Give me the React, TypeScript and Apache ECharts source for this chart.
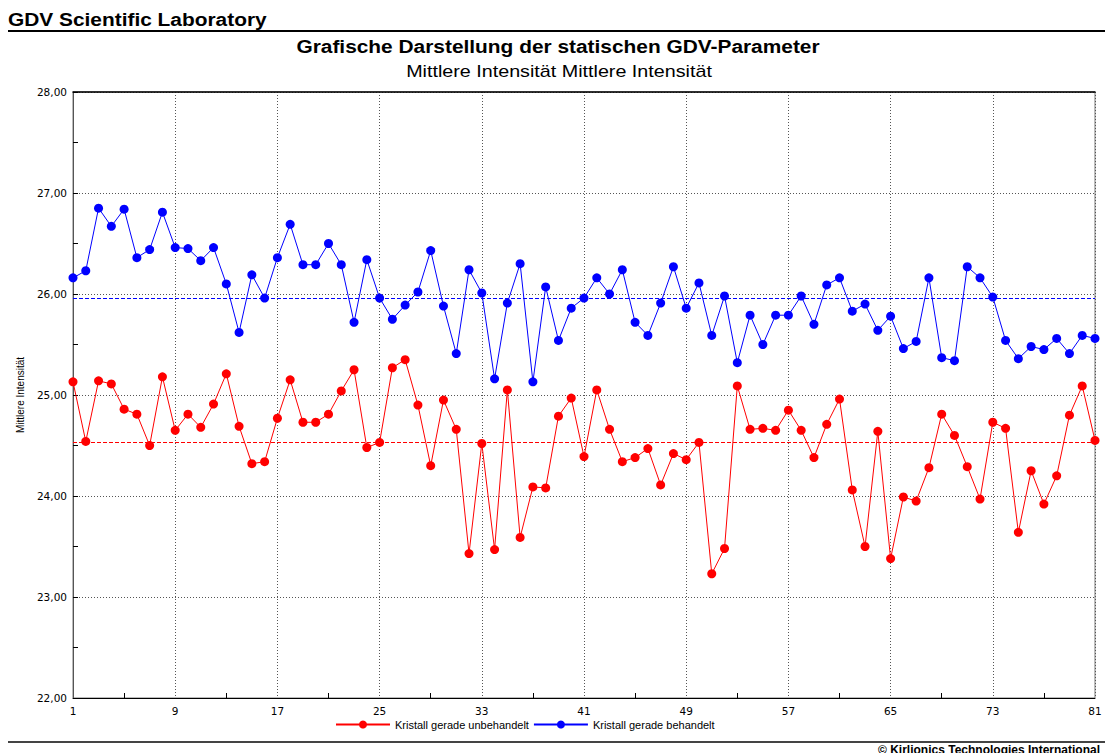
import React, { useEffect, useRef } from "react";
import * as echarts from "echarts";

const categories: string[] = Array.from({ length: 81 }, (_, i) => String(i + 1));

const untreated: number[] = [
  25.13, 24.54, 25.14, 25.11, 24.86, 24.81, 24.5, 25.18, 24.65, 24.81,
  24.68, 24.91, 25.21, 24.69, 24.32, 24.34, 24.77, 25.15, 24.73, 24.73,
  24.81, 25.04, 25.25, 24.48, 24.53, 25.27, 25.35, 24.9, 24.3, 24.95,
  24.66, 23.43, 24.52, 23.47, 25.05, 23.59, 24.09, 24.08, 24.79, 24.97,
  24.39, 25.05, 24.66, 24.34, 24.38, 24.47, 24.11, 24.42, 24.36, 24.53,
  23.23, 23.48, 25.09, 24.66, 24.67, 24.65, 24.85, 24.65, 24.38, 24.71,
  24.96, 24.06, 23.5, 24.64, 23.38, 23.99, 23.95, 24.28, 24.81, 24.6,
  24.29, 23.97, 24.73, 24.67, 23.64, 24.25, 23.92, 24.2, 24.8, 25.09, 24.55,
];

const treated: number[] = [
  26.16, 26.23, 26.85, 26.67, 26.84, 26.36, 26.44, 26.81, 26.46, 26.45,
  26.33, 26.46, 26.1, 25.62, 26.19, 25.96, 26.36, 26.69, 26.29, 26.29,
  26.5, 26.29, 25.72, 26.34, 25.96, 25.75, 25.89, 26.02, 26.43, 25.88,
  25.41, 26.24, 26.01, 25.16, 25.91, 26.3, 25.13, 26.07, 25.54, 25.86,
  25.96, 26.16, 26.0, 26.24, 25.72, 25.59, 25.91, 26.27, 25.86, 26.11,
  25.59, 25.98, 25.32, 25.79, 25.5, 25.79, 25.79, 25.98, 25.7, 26.09,
  26.16, 25.83, 25.9, 25.64, 25.78, 25.46, 25.53, 26.16, 25.37, 25.34,
  26.27, 26.16, 25.97, 25.54, 25.36, 25.48, 25.45, 25.56, 25.41, 25.59, 25.56,
];

const meanUntreated = 24.53;
const meanTreated = 25.96;

const seriesNames = ["Kristall gerade unbehandelt", "Kristall gerade behandelt"];
const seriesColors = ["#ff0000", "#0000ff"];

const headerText = "GDV Scientific Laboratory";
const titleText = "Grafische Darstellung der statischen GDV-Parameter";
const subtitleText = "Mittlere Intensität Mittlere Intensität";
const yAxisName = "Mittlere Intensität";
const copyrightText = "© Kirlionics Technologies International";

export default function App() {
  const ref = useRef<HTMLDivElement>(null);

  useEffect(() => {
    if (!ref.current) return;
    const chart = echarts.init(ref.current, undefined, { renderer: "svg" });
    const font = "'Liberation Sans', Arial, sans-serif";
    const labelFont = "'DejaVu Sans', Verdana, sans-serif";
    const mkSeries = (name: string, data: number[], color: string, mean: number) => ({
      name,
      type: "line",
      data,
      symbol: "circle",
      symbolSize: 9,
      showSymbol: true,
      showAllSymbol: true,
      color,
      lineStyle: { color, width: 1 },
      itemStyle: { color },
      markLine: {
        silent: true,
        symbol: "none",
        label: { show: false },
        lineStyle: { color, type: [4, 2], width: 1 },
        data: [{ yAxis: mean }],
      },
      z: 3,
    });

    chart.setOption({
      animation: false,
      backgroundColor: "#ffffff",
      legend: {
        data: seriesNames,
        bottom: 18,
        left: 330,
        itemWidth: 54,
        itemHeight: 10,
        itemGap: 4,
        textStyle: { fontFamily: font, fontSize: 11, color: "#000" },
      },
      grid: {
        left: 73,
        right: 10,
        top: 92,
        bottom: 55,
        show: true,
        borderColor: "#777",
        borderWidth: 1,
      },
      xAxis: [
        {
          type: "category",
          data: categories,
          boundaryGap: false,
          axisLine: { show: true, lineStyle: { color: "#000", width: 1 } },
          axisTick: {
            show: true,
            inside: true,
            length: 5,
            interval: (index: number) => index % 8 === 4,
            lineStyle: { color: "#000" },
          },
          axisLabel: {
            interval: 7,
            margin: 7,
            fontFamily: labelFont,
            fontSize: 10.5,
            color: "#000",
          },
          splitLine: {
            show: true,
            interval: 7,
            lineStyle: { color: "#555", type: [1, 2], width: 1 },
          },
        },
        {
          type: "category",
          data: categories,
          position: "top",
          boundaryGap: false,
          axisLine: { show: true, lineStyle: { color: "#000", width: 1.5 } },
          axisTick: { show: false },
          axisLabel: { show: false },
          splitLine: { show: false },
        },
      ],
      yAxis: {
        type: "value",
        min: 22,
        max: 28,
        interval: 1,
        name: yAxisName,
        nameLocation: "middle",
        nameGap: 48,
        nameTextStyle: { fontFamily: font, fontSize: 10, color: "#000" },
        axisLine: { show: true, lineStyle: { color: "#555", width: 1 } },
        axisTick: { show: true, inside: true, length: 5, lineStyle: { color: "#000" } },
        minorTick: { show: true, splitNumber: 2, length: 5, lineStyle: { color: "#000" } },
        axisLabel: {
          margin: 6,
          fontFamily: labelFont,
          fontSize: 10.5,
          color: "#000",
          formatter: (v: number) => v.toFixed(2).replace(".", ","),
        },
        splitLine: { show: true, lineStyle: { color: "#555", type: [1, 2], width: 1 } },
      },
      graphic: [
        {
          type: "text",
          x: 8,
          y: 11,
          scaleX: 1.16,
          style: {
            text: headerText,
            fontFamily: font,
            fontWeight: "bold",
            fontSize: 18,
            fill: "#000",
          },
        },
        {
          type: "text",
          x: 558,
          y: 38,
          scaleX: 1.16,
          style: {
            text: titleText,
            fontFamily: font,
            fontWeight: "bold",
            fontSize: 18,
            fill: "#000",
            align: "center",
          },
        },
        {
          type: "text",
          x: 559,
          y: 62,
          scaleX: 1.16,
          style: {
            text: subtitleText,
            fontFamily: font,
            fontSize: 17,
            fill: "#000",
            align: "center",
          },
        },
        {
          type: "line",
          shape: { x1: 8, y1: 31, x2: 1105, y2: 31 },
          style: { stroke: "#000", lineWidth: 2 },
        },
        {
          type: "line",
          shape: { x1: 8, y1: 742, x2: 1105, y2: 742 },
          style: { stroke: "#444", lineWidth: 2 },
        },
        {
          type: "text",
          x: 1100,
          y: 744,
          style: {
            text: copyrightText,
            fontFamily: font,
            fontWeight: "bold",
            fontSize: 12,
            fill: "#000",
            align: "right",
          },
        },
      ],
      series: [
        mkSeries(seriesNames[0], untreated, seriesColors[0], meanUntreated),
        mkSeries(seriesNames[1], treated, seriesColors[1], meanTreated),
      ],
    });
    return () => chart.dispose();
  }, []);

  return (
    <div
      ref={ref}
      style={{ position: "fixed", left: 0, top: 0, width: 1105, height: 753 }}
    />
  );
}
